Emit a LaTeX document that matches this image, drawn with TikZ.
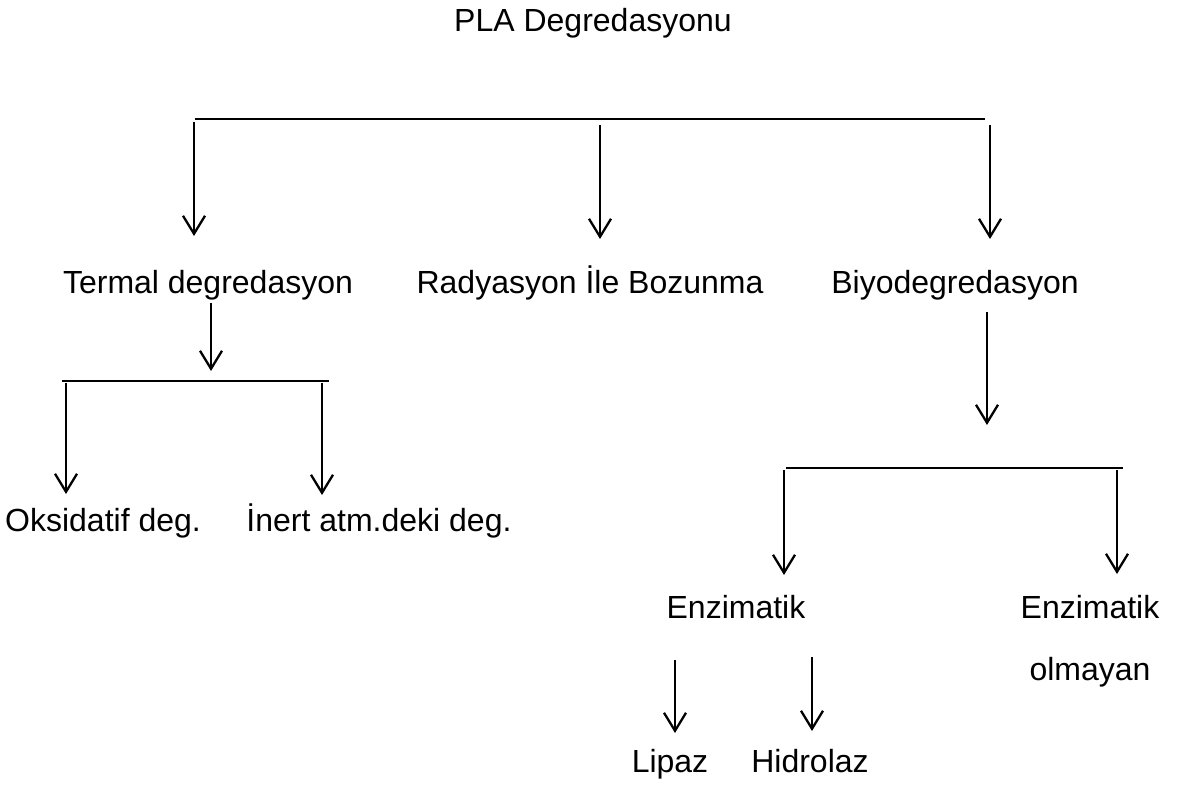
\documentclass[tikz,border=0pt]{standalone}
\usepackage{fontspec}
\setmainfont{Liberation Sans}
\usetikzlibrary{arrows.meta}
\begin{document}
\begin{tikzpicture}[x=1pt,y=-1pt,
  lbl/.style={anchor=base,inner sep=0pt,font=\fontsize{32}{38}\selectfont},
  bar/.style={line width=1.4pt},
  arr/.style={line width=2.3pt,-{Straight Barb[length=18pt,width=22pt,line width=2.3pt]}}]
\useasboundingbox[fill=white] (0,0) rectangle (1197,791);
% texts
\node[lbl] (title) at (593,32) {PLA Degredasyonu};
\node[lbl] (termal) at (208,294) {Termal degredasyon};
\node[lbl] (rad) at (590,294) {Radyasyon İle Bozunma};
\node[lbl] (biyo) at (955,294) {Biyodegredasyon};
\node[lbl] (oks) at (103,531) {Oksidatif deg.};
\node[lbl] (inert) at (379,531) {İnert atm.deki deg.};
\node[lbl] (enz) at (736,618) {Enzimatik};
\node[lbl] (enzo) at (1090,618) {Enzimatik};
\node[lbl] (olm) at (1090,680) {olmayan};
\node[lbl] (lip) at (670,772) {Lipaz};
\node[lbl] (hid) at (810,772) {Hidrolaz};
% bars
\coordinate (b1l) at (195,119); \coordinate (b1r) at (985,119);
\coordinate (b2l) at (62,381); \coordinate (b2r) at (329,381);
\coordinate (b3l) at (786,468); \coordinate (b3r) at (1123,468);
\draw[bar] (b1l) -- (b1r);
\draw[bar] (b2l) -- (b2r);
\draw[bar] (b3l) -- (b3r);
% arrows top
\coordinate (a1s) at (194,122); \coordinate (a1e) at (194,236);
\coordinate (a2s) at (600,125); \coordinate (a2e) at (600,239);
\coordinate (a3s) at (990,125); \coordinate (a3e) at (990,239);
\draw[arr] (a1s) -- (a1e);
\draw[arr] (a2s) -- (a2e);
\draw[arr] (a3s) -- (a3e);
% termal branch
\coordinate (t0s) at (211,303); \coordinate (t0e) at (211,371);
\draw[arr] (t0s) -- (t0e);
\coordinate (t1s) at (66,383); \coordinate (t1e) at (66,494);
\coordinate (t2s) at (322,383); \coordinate (t2e) at (322,495);
\draw[arr] (t1s) -- (t1e);
\draw[arr] (t2s) -- (t2e);
% biyo branch
\coordinate (y0s) at (987,312); \coordinate (y0e) at (987,425);
\draw[arr] (y0s) -- (y0e);
\coordinate (y1s) at (784,470); \coordinate (y1e) at (784,575);
\coordinate (y2s) at (1117,470); \coordinate (y2e) at (1117,574);
\draw[arr] (y1s) -- (y1e);
\draw[arr] (y2s) -- (y2e);
% enzimatik branch
\coordinate (e1s) at (675,660); \coordinate (e1e) at (675,733);
\coordinate (e2s) at (812,657); \coordinate (e2e) at (812,731);
\draw[arr] (e1s) -- (e1e);
\draw[arr] (e2s) -- (e2e);
\end{tikzpicture}
\end{document}
